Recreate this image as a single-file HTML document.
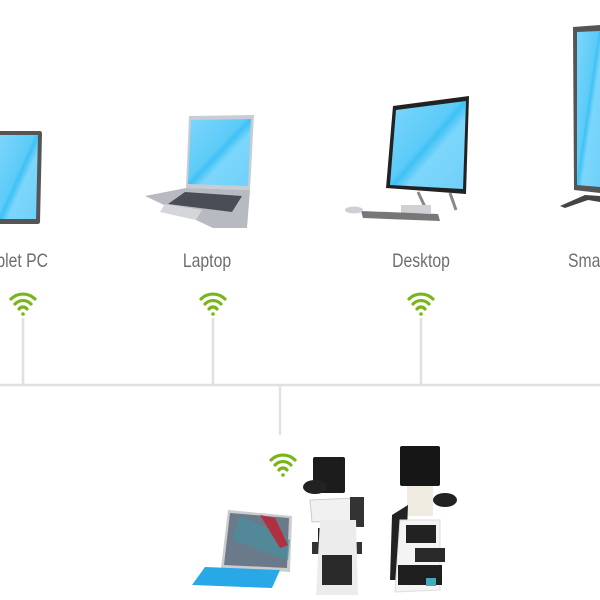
<!DOCTYPE html>
<html><head><meta charset="utf-8"><style>
html,body{margin:0;padding:0;background:#fff;width:600px;height:600px;overflow:hidden}
text{font-family:"Liberation Sans",sans-serif;fill:#6e6e6e;font-size:19px}
</style></head><body>
<svg width="600" height="600" viewBox="0 0 600 600" xmlns="http://www.w3.org/2000/svg">
<defs>
<linearGradient id="scr" x1="0" y1="0" x2="1" y2="1">
<stop offset="0" stop-color="#7dd6fb"/><stop offset="0.45" stop-color="#5ccbf8"/><stop offset="0.5" stop-color="#3ec1f5"/><stop offset="0.6" stop-color="#7dd6fb"/><stop offset="1" stop-color="#6fd0fa"/>
</linearGradient>
<g id="wifi" fill="none" stroke="#78b518" stroke-width="3.2" stroke-linecap="round">
<path d="M-12,-10 A17,17 0 0 1 12,-10"/><path d="M-8,-5 A11,11 0 0 1 8,-5"/><path d="M-4,0 A5,5 0 0 1 4,0"/>
<circle cx="0" cy="5" r="1.8" fill="#78b518" stroke="none"/>
</g>
</defs>
<g stroke="#e0e0e0" stroke-width="2.5">
<line x1="0" y1="385" x2="600" y2="385"/>
<line x1="23" y1="318" x2="23" y2="385"/>
<line x1="213" y1="318" x2="213" y2="385"/>
<line x1="421" y1="318" x2="421" y2="385"/>
<line x1="280" y1="385" x2="280" y2="435"/>
</g>
<use href="#wifi" x="23" y="309"/>
<use href="#wifi" x="213" y="309"/>
<use href="#wifi" x="421" y="309"/>
<use href="#wifi" x="283" y="470"/>
<path d="M0,131 L40,131 Q42,131 42,134 L40,222 Q40,224 37,224 L0,224 Z" fill="#555"/>
<path d="M0,135 L38,135 L36,219 L0,219 Z" fill="url(#scr)"/>
<path d="M189,116 L254,115 L250,190 L186,188 Z" fill="#c9ccd2"/>
<path d="M191,120 L251,119 L248,186 L188,184 Z" fill="url(#scr)"/>
<path d="M186,188 L250,190 L247,228 L213,228 L145,196 Z" fill="#b7bac1"/>
<path d="M185,192 L242,196 L232,212 L168,204 Z" fill="#4a4d55"/>
<path d="M165,204 L202,210 L196,220 L160,212 Z" fill="#d4d6da"/>
<path d="M393,106 L469,96 L466,194 L386,188 Z" fill="#222"/>
<path d="M396,110 L466,101 L463,189 L390,185 Z" fill="url(#scr)"/>
<path d="M418,192 L425,207 M450,193 L456,210" stroke="#888" stroke-width="3"/>
<rect x="401" y="205" width="30" height="8" fill="#cfd1d5"/>
<path d="M361,211 L438,214 L440,221 L363,218 Z" fill="#777"/>
<ellipse cx="354" cy="210" rx="9" ry="3.5" fill="#ccd0d5"/>
<path d="M573,27 L600,25 L600,193 L574,190 Z" fill="#555"/>
<path d="M577,32 L600,31 L600,187 L577,185 Z" fill="url(#scr)"/>
<path d="M560,206 L585,195 L600,196 L600,202 L588,200 L565,208 Z" fill="#444"/>
<g transform="translate(48,0) scale(0.83,1)"><text x="0" y="267" text-anchor="end">Tablet PC</text></g>
<g transform="translate(207,0) scale(0.83,1)"><text x="0" y="267" text-anchor="middle">Laptop</text></g>
<g transform="translate(421,0) scale(0.83,1)"><text x="0" y="267" text-anchor="middle">Desktop</text></g>
<g transform="translate(568,0) scale(0.83,1)"><text x="0" y="267">Smart TV</text></g>
<path d="M228,510 L292,516 L290,572 L221,568 Z" fill="#ccc"/>
<path d="M230,513 L289,518 L287,568 L224,565 Z" fill="#6a7a8a"/>
<path d="M240,515 L290,540 L288,560 L232,540 Z" fill="#4a8fa0" opacity="0.7"/>
<path d="M260,515 L275,518 L288,545 L280,548 Z" fill="#b03040"/>
<path d="M205,567 L280,570 L272,588 L192,585 Z" fill="#29a8e8"/>
<rect x="313" y="457" width="32" height="36" fill="#1c1c1c" rx="2"/>
<ellipse cx="315" cy="487" rx="12" ry="7" fill="#222"/>
<path d="M310,500 L356,498 L360,520 L312,522 Z" fill="#f1f1f1" stroke="#ccc"/>
<rect x="350" y="497" width="14" height="30" fill="#333"/>
<rect x="318" y="528" width="38" height="14" fill="#222"/>
<rect x="312" y="542" width="50" height="12" fill="#333"/>
<path d="M320,520 L356,520 L358,595 L316,595 Z" fill="#ececec"/>
<rect x="322" y="555" width="30" height="30" fill="#2a2a2a"/>
<rect x="400" y="446" width="40" height="40" fill="#161616" rx="2"/>
<rect x="407" y="486" width="26" height="30" fill="#f0ebe1"/>
<ellipse cx="445" cy="500" rx="12" ry="7" fill="#222"/>
<path d="M392,515 L408,505 L405,580 L390,580 Z" fill="#222"/>
<path d="M400,520 L440,520 L440,590 L395,592 Z" fill="#f4f4f4" stroke="#ddd"/>
<rect x="406" y="525" width="30" height="18" fill="#222"/>
<rect x="415" y="548" width="30" height="14" fill="#2a2a2a"/>
<rect x="398" y="565" width="44" height="20" fill="#1e1e1e"/>
<rect x="426" y="578" width="10" height="8" fill="#4ab"/>
</svg>
</body></html>
